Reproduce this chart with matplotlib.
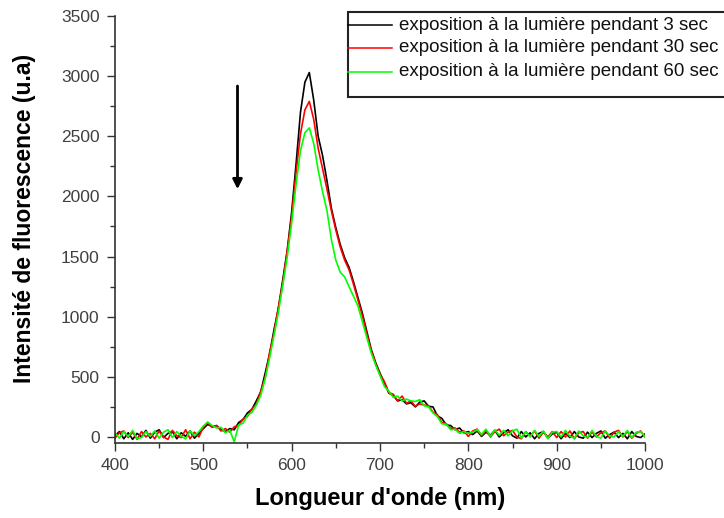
import matplotlib
matplotlib.use("Agg")
import matplotlib.pyplot as plt
import numpy as np
from matplotlib.patches import Rectangle
from matplotlib.lines import Line2D
from matplotlib.ticker import MultipleLocator

plt.rcParams['font.family'] = ['Liberation Sans', 'DejaVu Sans']

# Wavelength grid (nm)
wavelength = np.arange(400, 1001, 5)

# Fluorescence intensity (u.a) for each exposure time
expo_3s = [
    10, 45, -15, 35, -20, 30, 0, 55, -10, 40,
    60, -5, 30, 45, -15, 35, 5, 50, -10, 30,
    70, 105, 85, 95, 60, 45, 70, 60, 120, 145,
    200, 230, 300, 375, 530, 690, 890, 1070, 1310, 1550,
    1870, 2270, 2700, 2950, 3030, 2800, 2500, 2340, 2130, 1900,
    1740, 1600, 1490, 1410, 1290, 1160, 1030, 880, 730, 620,
    530, 450, 365, 345, 300, 310, 275, 285, 250, 290,
    300, 255, 250, 175, 155, 100, 95, 60, 75, 35,
    45, 20, 50, 5, 40, 15, 55, 0, 35, 60,
    10, -10, 45, 0, 35, -15, 30, 45, -10, 25,
    40, -15, 30, -5, 45, 0, -10, 40, -5, 30,
    50, -10, 20, 40, -5, 30, -15, 45, 5, -5,
    25,
]
expo_30s = [
    -10, 35, 50, -5, 40, -20, 45, 0, 30, -15,
    50, 0, -20, 55, 10, -5, 60, -15, 40, 0,
    85, 120, 80, 95, 50, 70, 40, 85, 95, 150,
    170, 235, 270, 380, 490, 700, 860, 1080, 1280, 1550,
    1830, 2200, 2520, 2720, 2790, 2640, 2400, 2230, 2060, 1880,
    1720, 1580, 1470, 1390, 1270, 1140, 1010, 860, 720, 610,
    520, 460, 370, 355, 300, 340, 280, 300, 255, 275,
    265, 260, 205, 185, 120, 110, 70, 75, 40, 50,
    5, 50, 65, 10, 55, 0, 45, 65, 10, 40,
    55, 0, -15, 45, 5, 50, -10, 40, 0, 45,
    -5, 45, 0, 50, -15, 35, 45, -10, 40, 0,
    35, 50, -10, 40, 55, 0, 45, -10, 30, 50,
    0,
]
expo_60s = [
    35, -10, 45, 5, 55, -15, -5, 45, 5, 50,
    -10, 40, 60, -5, 45, 5, -15, 50, 10, 45,
    90, 125, 95, 75, 80, 35, 55, -40, 100, 115,
    180, 205, 265, 345, 485, 655, 845, 1035, 1265, 1495,
    1780, 2100, 2380, 2530, 2570, 2440, 2220, 2040, 1880, 1640,
    1470, 1370, 1330, 1250, 1170, 1090, 960, 830, 700, 600,
    510, 420, 380, 330, 340, 300, 315, 300, 295, 310,
    260, 250, 200, 170, 110, 105, 60, 65, 30, 45,
    30, 40, 60, 20, 65, 5, 60, 15, 55, 10,
    50, 65, -10, 45, 0, 55, 5, 50, -15, 40,
    45, 0, 55, 5, -10, 50, 10, -5, 55, 5,
    -10, 50, 10, 0, 45, 5, 55, -5, 40, 45,
    5,
]

series = [expo_3s, expo_30s, expo_60s]
labels = [
    "exposition à la lumière pendant 3 sec",
    "exposition à la lumière pendant 30 sec",
    "exposition à la lumière pendant 60 sec",
]
colors = ["#000000", "#ff0000", "#00ff00"]

x_ticks = [400, 500, 600, 700, 800, 900, 1000]
y_ticks = [0, 500, 1000, 1500, 2000, 2500, 3000, 3500]

# Arrow marking the decrease of intensity with exposure time
arrow_x = 538.7
arrow_top, arrow_tip = 2918, 2060

fig = plt.figure(figsize=(7.24, 5.18), dpi=100)
ax = fig.add_axes([0.1588, 0.1448, 0.7321, 0.8243])

for vals, col in zip(series, colors):
    ax.plot(wavelength, vals, color=col, lw=1.2)

ax.set_xlim(400, 1000)
ax.set_ylim(-50, 3500)
ax.set_xticks(x_ticks)
ax.set_yticks(y_ticks)
ax.xaxis.set_minor_locator(MultipleLocator(50))
ax.yaxis.set_minor_locator(MultipleLocator(250))

for side in ("top", "right"):
    ax.spines[side].set_visible(False)
for side in ("left", "bottom"):
    ax.spines[side].set_color("#333333")
    ax.spines[side].set_linewidth(1.2)

ax.tick_params(which="major", direction="out", length=6, width=1,
               color="#333333", labelsize=12.5, labelcolor="#404040", pad=5)
ax.tick_params(which="minor", direction="out", length=3.5, width=1,
               color="#333333")

ax.set_xlabel("Longueur d'onde (nm)", fontsize=17, fontweight="bold")
ax.set_ylabel("Intensité de fluorescence (u.a)", fontsize=16.5, fontweight="bold")
ax.xaxis.label.set_va("center")
ax.yaxis.label.set_va("center")
ax.xaxis.set_label_coords(0.5, -0.13)
ax.yaxis.set_label_coords(-0.17, 0.527)

ax.annotate("", xy=(arrow_x, arrow_tip), xytext=(arrow_x, arrow_top),
            arrowprops=dict(arrowstyle="-|>", color="black", lw=2,
                            mutation_scale=14, shrinkA=0, shrinkB=0))

# Legend box, running past the right edge of the figure
box_left, box_bottom, box_top = 348 / 724, 1 - 97 / 518, 1 - 12 / 518
fig.patches.append(Rectangle((box_left, box_bottom), 0.7, box_top - box_bottom,
                             transform=fig.transFigure, facecolor="white",
                             edgecolor="#222222", lw=1.5, zorder=5))
row_y = [1 - 25 / 518, 1 - 48 / 518, 1 - 72 / 518]
for yy, col, lab in zip(row_y, colors, labels):
    fig.lines.append(Line2D([box_left, 392 / 724], [yy, yy], color=col, lw=1.1,
                            transform=fig.transFigure, zorder=6))
    fig.text(399 / 724, yy, lab, fontsize=13.5, va="center", ha="left",
             color="#111111", zorder=6)

fig.savefig("out.png", dpi=100)
